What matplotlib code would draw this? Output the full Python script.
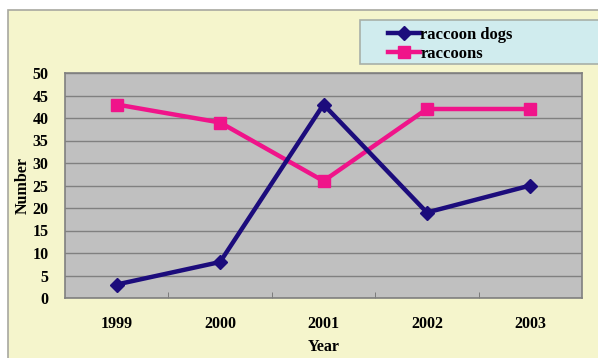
import matplotlib.pyplot as plt
from matplotlib.patches import Rectangle
from matplotlib.lines import Line2D

years = ['1999', '2000', '2001', '2002', '2003']
raccoon_dogs = [3, 8, 43, 19, 25]
raccoons = [43, 39, 26, 42, 42]
yticks = [0, 5, 10, 15, 20, 25, 30, 35, 40, 45, 50]

W, H = 598, 358
plt.rcParams['font.family'] = ['Liberation Serif', 'DejaVu Serif']
plt.rcParams['font.weight'] = 'bold'

fig = plt.figure(figsize=(W / 100, H / 100), dpi=100)
fig.patch.set_facecolor('white')

# yellow chart area (runs off the right and bottom edges)
fig.add_artist(Rectangle((8 / W, -0.1), 1.0, 1 - 10 / H + 0.1, transform=fig.transFigure,
                         facecolor='#f5f5cc', edgecolor='#a8a8a0', linewidth=1.2, zorder=0))

ax = fig.add_axes([65 / W, 1 - 298 / H, (582 - 65) / W, (298 - 73) / H])
ax.set_facecolor('#c0c0c0')
x = range(len(years))
ax.plot(x, raccoons, color='#f0148a', lw=3.2, marker='s', ms=9, label='raccoons', zorder=3)
ax.plot(x, raccoon_dogs, color='#1c0c7c', lw=3.2, marker='D', ms=7, label='raccoon dogs', zorder=4)

ax.set_xlim(-0.5, len(years) - 0.5)
ax.set_ylim(0, 50)
ax.set_yticks(yticks)
ax.set_xticks(x)
ax.set_xticklabels(years)
ax.set_xticks([i + 0.5 for i in range(len(years) - 1)], minor=True)
ax.tick_params(axis='x', which='major', length=0, pad=13, labelsize=11.5)
ax.tick_params(axis='x', which='minor', length=4, direction='in', color='#707070')
ax.tick_params(axis='y', length=0, pad=12, labelsize=11.5)
ax.grid(axis='y', color='#808080', lw=1)
ax.set_axisbelow(True)
for s in ax.spines.values():
    s.set_color('#808080')
    s.set_linewidth(1.2)
ax.set_xlabel('Year', fontsize=11.5, fontweight='bold', labelpad=5)
ax.set_ylabel('Number', fontsize=11.5, fontweight='bold', labelpad=1)

# legend box
fig.add_artist(Rectangle((360 / W, 1 - 64 / H), 1.0, 44 / H, transform=fig.transFigure,
                         facecolor='#d0ecee', edgecolor='#a8b0a8', linewidth=1.2, zorder=1))
handles = [Line2D([], [], color='#1c0c7c', lw=3.2, marker='D', ms=7),
           Line2D([], [], color='#f0148a', lw=3.2, marker='s', ms=9)]
fig.legend(handles, ['raccoon dogs', 'raccoons'], loc='upper left',
           bbox_to_anchor=(383 / W, 1 - 22 / H), frameon=False, fontsize=12,
           handlelength=1.9, handletextpad=0.05, labelspacing=0.2, borderpad=0.3,
           borderaxespad=0)

fig.savefig('out.png', dpi=100)
